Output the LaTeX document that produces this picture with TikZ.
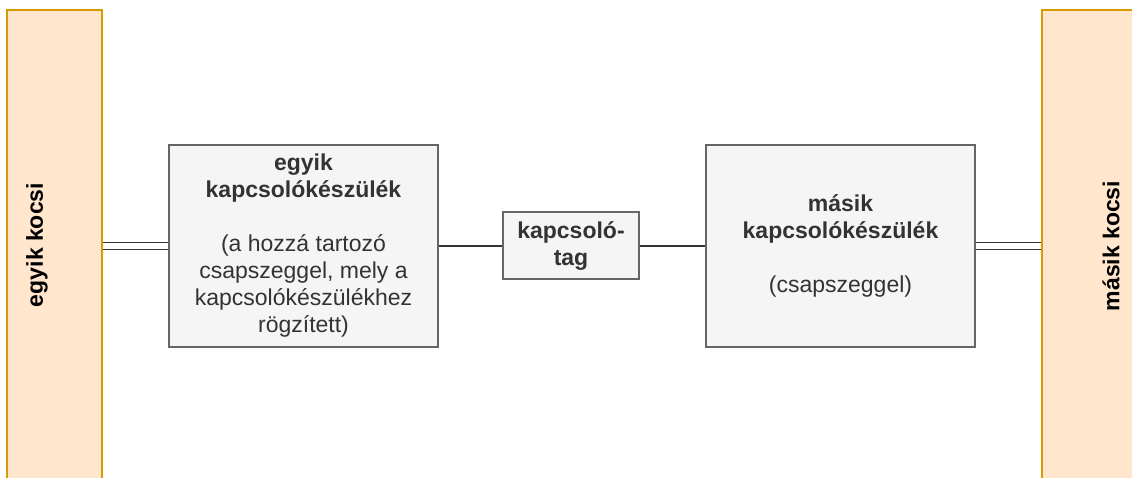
\documentclass[tikz,border=0pt]{standalone}
\usepackage{fontspec}
\setmainfont{Liberation Sans}
\definecolor{carfill}{HTML}{FFE6CC}
\definecolor{carline}{HTML}{D79B00}
\definecolor{boxfill}{HTML}{F5F5F5}
\definecolor{boxline}{HTML}{666666}
\definecolor{boxtext}{HTML}{333333}
\definecolor{wire}{HTML}{333333}
\begin{document}
\begin{tikzpicture}[x=1pt,y=-1pt,
  car/.style={draw=carline, fill=carfill, line width=1.5pt, minimum width=95pt, minimum height=480pt, inner sep=0pt},
  dev/.style={draw=boxline, fill=boxfill, line width=1.8pt, text=boxtext, align=center, font=\fontsize{23}{27}\selectfont, inner sep=0pt},
  cartext/.style={rotate=90, font=\bfseries\fontsize{23}{27}\selectfont, text=black},
  singlewire/.style={draw=wire, line width=2pt},
  doublewire/.style={draw=wire, line width=1.8pt, double=white, double distance=5.2pt}]
\useasboundingbox (0,0) rectangle (1132,477);
\clip (0,0) rectangle (1132,477);
\fill[white] (0,0) rectangle (1132,477);
\node[car] (leftcar) at (54.5,250) {};
\node[car, minimum width=100pt] (rightcar) at (1092,250) {};
\node[cartext] (lefttext) at (37,245) {egyik kocsi};
\node[cartext] (righttext) at (1111,246) {másik kocsi};
\node[dev, minimum width=269pt, minimum height=202pt] (box1) at (303.5,246)
  {\textbf{egyik}\\\textbf{kapcsolókészülék}\\[27pt](a hozzá tartozó\\csapszeggel, mely a\\kapcsolókészülékhez\\rögzített)};
\node[dev, minimum width=136pt, minimum height=67pt] (tag) at (571,245.5)
  {\textbf{kapcsoló-}\\\textbf{tag}};
\node[dev, minimum width=269pt, minimum height=202pt] (box2) at (840.5,246)
  {\textbf{másik}\\\textbf{kapcsolókészülék}\\[27pt](csapszeggel)};
\draw[doublewire] (leftcar.east |- box1.west) -- (box1.west);
\draw[singlewire] (box1.east |- tag.west) -- (tag.west);
\draw[singlewire] (tag.east) -- (box2.west |- tag.east);
\draw[doublewire] (box2.east) -- (rightcar.west |- box2.east);
\end{tikzpicture}
\end{document}
